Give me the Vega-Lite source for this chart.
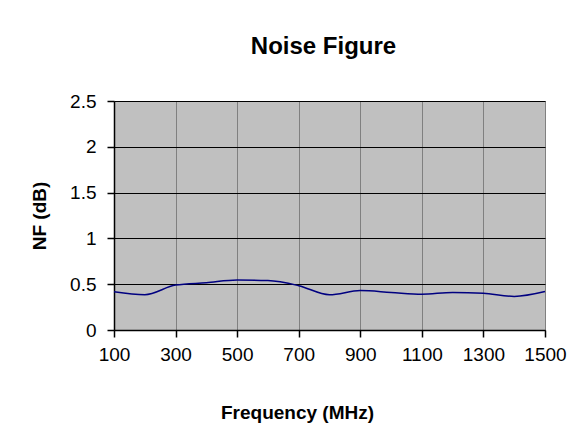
{
  "$schema": "https://vega.github.io/schema/vega-lite/v6.json",
  "width": 431,
  "height": 229,
  "autosize": {"type": "none"},
  "padding": {"left": 114, "top": 101, "right": 29, "bottom": 95},
  "background": "white",
  "title": {
    "text": "Noise Figure",
    "font": "Liberation Sans",
    "fontSize": 24,
    "fontWeight": "bold",
    "color": "black",
    "dx": -6,
    "offset": 33
  },
  "config": {
    "view": {"fill": "#c0c0c0", "stroke": "#808080", "strokeWidth": 1},
    "axis": {
      "labelFont": "Liberation Sans",
      "labelFontSize": 19,
      "labelColor": "black",
      "titleFont": "Liberation Sans",
      "titleFontSize": 19,
      "titleFontWeight": "bold",
      "titleColor": "black",
      "domainColor": "black",
      "domainWidth": 1.5,
      "tickColor": "black",
      "tickSize": 7,
      "tickWidth": 1.5
    }
  },
  "data": {
    "values": [
      {"freq": 100, "nf": 0.418},
      {"freq": 200, "nf": 0.385},
      {"freq": 300, "nf": 0.49},
      {"freq": 400, "nf": 0.516},
      {"freq": 500, "nf": 0.545},
      {"freq": 600, "nf": 0.54},
      {"freq": 700, "nf": 0.484},
      {"freq": 800, "nf": 0.385},
      {"freq": 900, "nf": 0.43},
      {"freq": 1000, "nf": 0.41},
      {"freq": 1100, "nf": 0.39},
      {"freq": 1200, "nf": 0.41},
      {"freq": 1300, "nf": 0.4},
      {"freq": 1400, "nf": 0.367},
      {"freq": 1500, "nf": 0.42}
    ]
  },
  "mark": {"type": "line", "color": "#000080", "strokeWidth": 1.5, "interpolate": "monotone"},
  "encoding": {
    "x": {
      "field": "freq",
      "type": "quantitative",
      "scale": {"domain": [100, 1500], "nice": false, "zero": false},
      "axis": {
        "title": "Frequency (MHz)",
        "values": [100, 300, 500, 700, 900, 1100, 1300, 1500],
        "format": "d",
        "grid": true,
        "gridColor": "#808080",
        "gridWidth": 1,
        "gridOpacity": 1,
        "labelPadding": 8,
        "labelFlush": false,
        "labelOverlap": false,
        "titleX": 183,
        "titleY": 88,
        "titleBaseline": "alphabetic"
      }
    },
    "y": {
      "field": "nf",
      "type": "quantitative",
      "scale": {"domain": [0, 2.5], "nice": false},
      "axis": {
        "title": "NF (dB)",
        "values": [0, 0.5, 1, 1.5, 2, 2.5],
        "format": "~g",
        "grid": true,
        "gridColor": "black",
        "gridWidth": 1,
        "gridOpacity": 1,
        "labelPadding": 11,
        "labelFlush": false,
        "titlePadding": 20
      }
    }
  }
}
